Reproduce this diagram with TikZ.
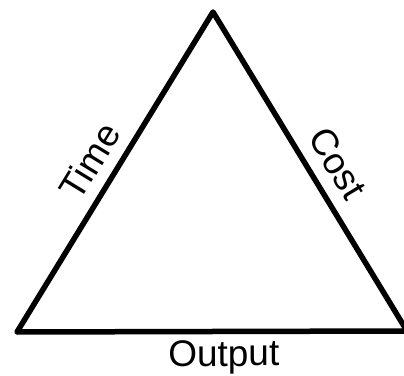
\documentclass[tikz,border=0pt]{standalone}
\usepackage{fontspec}
\setmainfont{Liberation Sans}
\usetikzlibrary{positioning}
\tikzset{
  side/.style  ={line width=5.5pt, line cap=round, line join=round},
  lbl/.style   ={font=\fontsize{37}{44}\selectfont, inner sep=0pt, sloped},
}

\begin{document}
\begin{tikzpicture}[x=1pt, y=1pt]
  \useasboundingbox (0,0) rectangle (404,375);

  % --- corners of the triangle ----------------------------------------
  \coordinate (apex)  at (213,363);
  \coordinate (left)  at (17,43);
  \coordinate (right) at (407,44);

  % --- sides with their labels ----------------------------------------
  \draw[side] (left) -- node[lbl, above=11pt, pos=.49] (time) {Time} (apex)
                     -- node[lbl, above=12pt, pos=.52] (cost) {Cost} (right)
                     -- node[lbl, below=6pt, pos=.47]  (output) {Output} cycle;
\end{tikzpicture}
\end{document}
